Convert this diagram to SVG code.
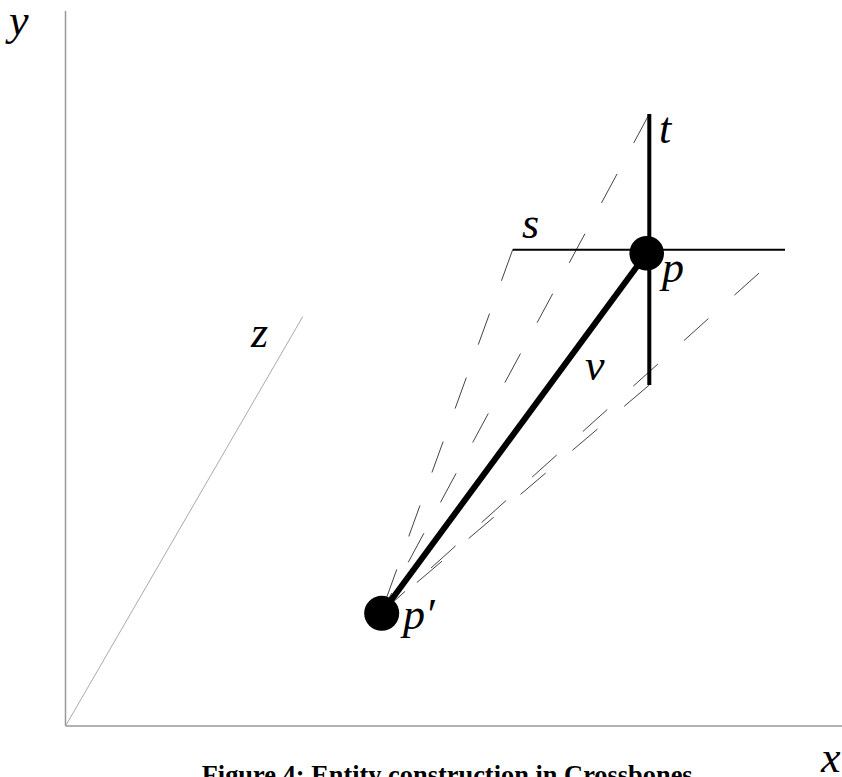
<svg xmlns="http://www.w3.org/2000/svg" width="842" height="777" viewBox="0 0 842 777">
<style>
.lbl{font-family:"Liberation Serif","Times New Roman",serif;font-style:italic;font-size:44px;fill:#000}
.cap{font-family:"Liberation Serif","Times New Roman",serif;font-weight:bold;font-size:26.4px;fill:#000}
.axis{stroke:#999;stroke-width:1.5;fill:none}
.zax{stroke:#aaa;stroke-width:1;fill:none}
.dash{stroke:#444;stroke-width:1;fill:none;stroke-dasharray:33 35}
</style>
<rect width="842" height="777" fill="#fff"/>
<g id="axes">
<line class="axis" x1="65.5" y1="11" x2="65.5" y2="726"/>
<line class="axis" x1="65.5" y1="726" x2="842" y2="726"/>
<line class="zax" x1="65.5" y1="726" x2="302.7" y2="316.7"/>
<text class="lbl" x="9" y="35">y</text>
<text class="lbl" x="821" y="772">x</text>
<text class="lbl" x="251" y="347">z</text>
</g>
<g id="connectors">
<line class="dash" x1="649.3" y1="114" x2="381" y2="613"/>
<line class="dash" x1="512.7" y1="249.7" x2="381" y2="613"/>
<line class="dash" x1="785" y1="249.7" x2="381" y2="613" stroke-dashoffset="33"/>
<line class="dash" x1="649.3" y1="385" x2="381" y2="613"/>
<line x1="512.7" y1="249.7" x2="785" y2="249.7" stroke="#000" stroke-width="2"/>
<line x1="649.3" y1="114" x2="649.3" y2="385" stroke="#000" stroke-width="4"/>
<line x1="381.5" y1="613.3" x2="646.7" y2="253.3" stroke="#000" stroke-width="6"/>
</g>
<g id="node-p">
<circle cx="646.7" cy="253.3" r="17.3" fill="#000"/>
<text class="lbl" x="662" y="282">p</text>
</g>
<g id="node-pprime">
<circle cx="381.7" cy="613.3" r="17.5" fill="#000"/>
<text class="lbl" x="403" y="629">p′</text>
</g>
<g id="labels">
<text class="lbl" x="659" y="143">t</text>
<text class="lbl" x="522" y="238">s</text>
<text class="lbl" x="585" y="380">v</text>
</g>
<text class="cap" x="201.7" y="784">Figure 4: Entity construction in Crossbones</text>
</svg>
